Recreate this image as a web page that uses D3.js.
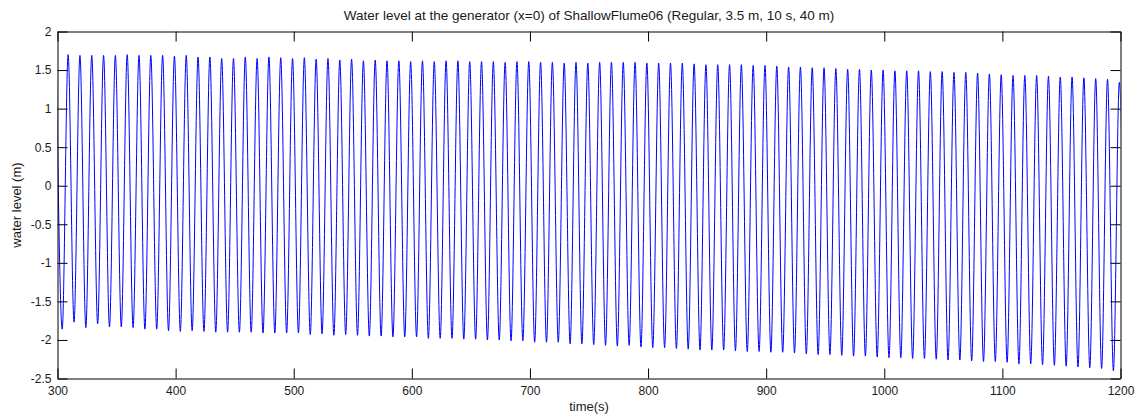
<!DOCTYPE html>
<html>
<head>
<meta charset="utf-8">
<script src="https://cdn.jsdelivr.net/npm/d3@7"></script>
<style>
  body { margin: 0; background: #fff; }
  text { font-family: "Liberation Sans", Arial, sans-serif; fill: #1a1a1a; }
</style>
</head>
<body>
<div id="chart"></div>
<script>
const chartTitle = 'Water level at the generator (x=0) of ShallowFlume06 (Regular, 3.5 m, 10 s, 40 m)'
const xLabel = 'time(s)'
const yLabel = 'water level (m)'
const xDomain = [300, 1200]
const yDomain = [-2.5, 2]
const xTicks = [300, 400, 500, 600, 700, 800, 900, 1000, 1100, 1200]
const yTicks = [-2.5, -2, -1.5, -1, -0.5, 0, 0.5, 1, 1.5, 2]

// wave period 10 s, first crest just before the left edge
const firstCrest = 299
const wavePeriod = 10

// crest heights, one per wave (299 s .. 1199 s)
const crestLevels = [
  1.70, 1.70, 1.69, 1.69, 1.69, 1.69, 1.70, 1.69, 1.69, 1.69, 1.68,
  1.69, 1.67, 1.67, 1.65, 1.65, 1.67, 1.65, 1.67, 1.66, 1.65,
  1.66, 1.64, 1.65, 1.63, 1.64, 1.62, 1.63, 1.62, 1.62, 1.61,
  1.62, 1.61, 1.62, 1.62, 1.61, 1.61, 1.61, 1.60, 1.61, 1.61,
  1.60, 1.60, 1.59, 1.60, 1.59,
  1.60, 1.60, 1.60, 1.60, 1.59, 1.59, 1.59, 1.59, 1.58, 1.57,
  1.57, 1.57, 1.57, 1.56, 1.56, 1.55, 1.54, 1.54, 1.53, 1.53,
  1.52, 1.51, 1.51, 1.50, 1.50, 1.49, 1.49, 1.49, 1.48, 1.48,
  1.47, 1.47, 1.46, 1.45, 1.44, 1.43, 1.43, 1.43, 1.42, 1.41,
  1.41, 1.40, 1.39, 1.38, 1.34
]

// trough depths, half a period after each crest (304 s .. 1204 s)
const troughLevels = [
  -1.86, -1.77, -1.84, -1.79, -1.83, -1.83, -1.84, -1.86, -1.86, -1.88,
  -1.89, -1.88, -1.89, -1.90, -1.90, -1.90, -1.90, -1.91, -1.91, -1.91,
  -1.91, -1.93, -1.92, -1.94, -1.93, -1.94, -1.95, -1.95, -1.96, -1.96,
  -1.96, -1.98, -1.98, -1.98, -1.99, -1.99, -2.00, -2.00, -2.01, -2.01,
  -2.03, -2.03, -2.03, -2.05, -2.05, -2.06, -2.07, -2.08, -2.07, -2.09,
  -2.10, -2.10, -2.11, -2.12, -2.13, -2.13, -2.13, -2.14, -2.15, -2.15,
  -2.16, -2.16, -2.17, -2.18, -2.19, -2.19, -2.20, -2.21, -2.21, -2.22,
  -2.23, -2.23, -2.24, -2.24, -2.25, -2.26, -2.26, -2.27, -2.28, -2.28,
  -2.29, -2.31, -2.31, -2.32, -2.33, -2.34, -2.35, -2.36, -2.37, -2.40,
  -2.42
]

const width = 1142
const height = 419
const margin = { top: 31.5, right: 21.5, bottom: 40.5, left: 57.5 }

const svg = d3.select('#chart')
  .append('svg')
  .attr('width', width)
  .attr('height', height)

const x = d3.scaleLinear()
  .domain(xDomain)
  .range([margin.left, width - margin.right])

const y = d3.scaleLinear()
  .domain(yDomain)
  .range([height - margin.bottom, margin.top])

// crests and troughs interleaved
const crestTimes = d3.range(crestLevels.length).map(i => firstCrest + i * wavePeriod)
const points = []
crestLevels.forEach((level, i) => {
  points.push([crestTimes[i], level])
  if (i < troughLevels.length) points.push([crestTimes[i] + wavePeriod / 2, troughLevels[i]])
})

svg.append('clipPath')
  .attr('id', 'plot-area')
  .append('rect')
  .attr('x', x(xDomain[0]))
  .attr('y', y(yDomain[1]))
  .attr('width', x(xDomain[1]) - x(xDomain[0]))
  .attr('height', y(yDomain[0]) - y(yDomain[1]))

const line = d3.line()
  .x(d => x(d[0]))
  .y(d => y(d[1]))
  .curve(d3.curveMonotoneX)

svg.append('path')
  .datum(points)
  .attr('clip-path', 'url(#plot-area)')
  .attr('fill', 'none')
  .attr('stroke', '#0000ff')
  .attr('stroke-width', 1)
  .attr('d', line)

// axes, matlab style: inward ticks on all four sides
const tickLen = 10

svg.append('g')
  .attr('transform', `translate(0, ${y(yDomain[0])})`)
  .call(d3.axisBottom(x).tickValues(xTicks).tickSizeInner(-tickLen).tickSizeOuter(0).tickPadding(8).tickFormat(d => String(d)))

svg.append('g')
  .attr('transform', `translate(0, ${y(yDomain[1])})`)
  .call(d3.axisTop(x).tickValues(xTicks).tickSizeInner(-tickLen).tickSizeOuter(0).tickFormat(''))

svg.append('g')
  .attr('transform', `translate(${x(xDomain[0])}, 0)`)
  .call(d3.axisLeft(y).tickValues(yTicks).tickSizeInner(-tickLen).tickSizeOuter(0).tickPadding(6).tickFormat(d => String(d)))

svg.append('g')
  .attr('transform', `translate(${x(xDomain[1])}, 0)`)
  .call(d3.axisRight(y).tickValues(yTicks).tickSizeInner(-tickLen).tickSizeOuter(0).tickFormat(''))

svg.selectAll('.tick text')
  .style('font-size', '12px')
  .attr('fill', '#1a1a1a')

svg.selectAll('.domain, .tick line')
  .attr('stroke', '#000')

svg.append('text')
  .attr('x', (x(xDomain[0]) + x(xDomain[1])) / 2)
  .attr('y', 20)
  .attr('text-anchor', 'middle')
  .style('font-size', '13.5px')
  .text(chartTitle)

svg.append('text')
  .attr('x', (x(xDomain[0]) + x(xDomain[1])) / 2)
  .attr('y', 411)
  .attr('text-anchor', 'middle')
  .style('font-size', '13px')
  .text(xLabel)

svg.append('text')
  .attr('transform', `translate(21, ${(y(yDomain[0]) + y(yDomain[1])) / 2}) rotate(-90)`)
  .attr('text-anchor', 'middle')
  .style('font-size', '13px')
  .text(yLabel)
</script>
</body>
</html>
